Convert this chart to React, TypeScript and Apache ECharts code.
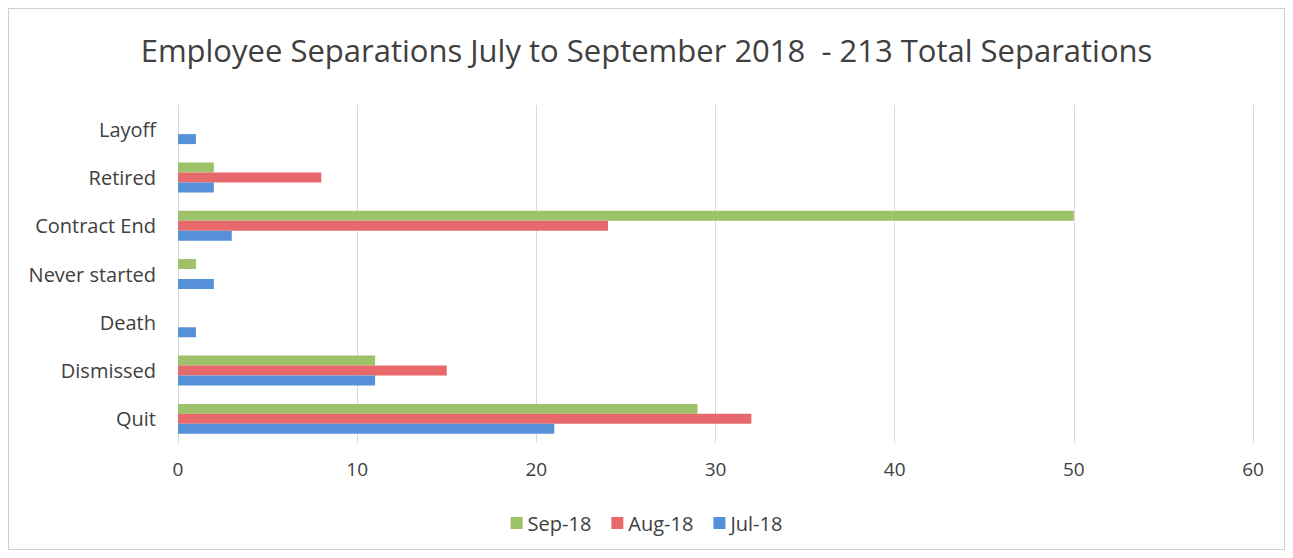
import React, { useEffect, useRef } from "react";
import * as echarts from "echarts";

const categories = ["Quit", "Dismissed", "Death", "Never started", "Contract End", "Retired", "Layoff"];
const jul18 = [21, 11, 1, 2, 3, 2, 1];
const aug18 = [32, 15, 0, 0, 24, 8, 0];
const sep18 = [29, 11, 0, 1, 50, 2, 0];
const xTicks = [0, 10, 20, 30, 40, 50, 60];

export default function App() {
  const ref = useRef<HTMLDivElement>(null);
  useEffect(() => {
    const chart = echarts.init(ref.current!, null, { renderer: "svg" });
    const font = "Open Sans";
    chart.setOption({
      animation: false,
      backgroundColor: "#ffffff",
      title: {
        text: "Employee Separations July to September 2018  - 213 Total Separations",
        left: "center",
        top: 20,
        textStyle: { fontFamily: font, fontSize: 31, fontWeight: "normal", color: "#404040" },
      },
      legend: {
        data: ["Sep-18", "Aug-18", "Jul-18"],
        top: 499,
        left: "center",
        itemWidth: 12,
        itemHeight: 12,
        itemGap: 20,
        icon: "rect",
        textStyle: { fontFamily: font, fontSize: 20, color: "#404040" },
      },
      grid: { left: 169, right: 31, top: 96, bottom: 106 },
      xAxis: {
        type: "value",
        min: xTicks[0],
        max: xTicks[xTicks.length - 1],
        interval: 10,
        axisLine: { show: false },
        axisTick: { show: false },
        splitLine: { show: true, lineStyle: { color: "#d9d9d9", width: 1 } },
        axisLabel: { fontFamily: font, fontSize: 19, color: "#404040", margin: 16 },
      },
      yAxis: {
        type: "category",
        data: categories,
        axisLine: { show: true, lineStyle: { color: "#d9d9d9" } },
        axisTick: { show: false },
        axisLabel: { fontFamily: font, fontSize: 20, color: "#404040", margin: 22 },
      },
      series: [
        { name: "Sep-18", type: "bar", data: sep18, itemStyle: { color: "#9dc26a" }, barGap: "0%", barCategoryGap: "38%" },
        { name: "Aug-18", type: "bar", data: aug18, itemStyle: { color: "#e8696b" }, barGap: "0%", barCategoryGap: "38%" },
        { name: "Jul-18", type: "bar", data: jul18, itemStyle: { color: "#5590d8" }, barGap: "0%", barCategoryGap: "38%" },
      ],
    });
    return () => chart.dispose();
  }, []);
  return (
    <div
      ref={ref}
      style={{ width: 1277, height: 542, border: "1px solid #d0d0d0", boxSizing: "border-box" }}
    />
  );
}
